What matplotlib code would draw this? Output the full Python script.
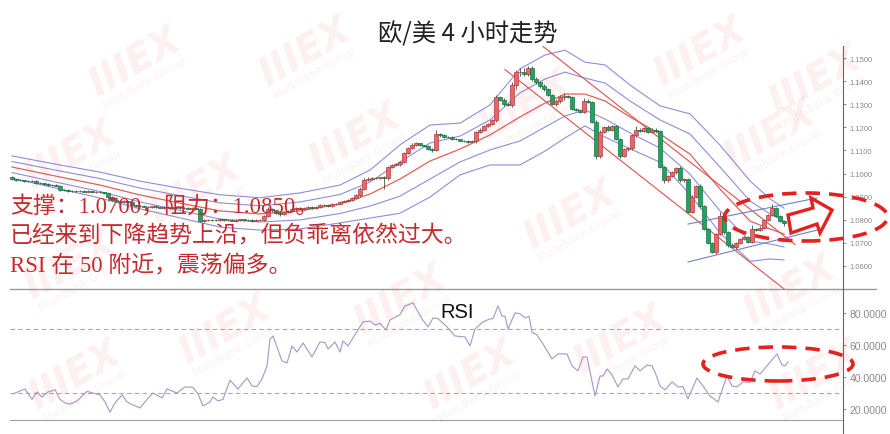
import numpy as np
import matplotlib.pyplot as plt
from matplotlib.patches import Rectangle, Ellipse, Polygon
from matplotlib.lines import Line2D

plt.rcParams['font.family'] = ['Noto Sans CJK SC', 'DejaVu Sans']

W, H = 890, 435

# 4小时K线 (收盘价), 开盘价取前一根收盘
first_open = 1.0985
closes = [
    1.0975, 1.0972, 1.0970, 1.0968, 1.0969, 1.0966, 1.0960, 1.0958, 1.0955, 1.0950,
    1.0952, 1.0948, 1.0930, 1.0928, 1.0925, 1.0926, 1.0924, 1.0925, 1.0922, 1.0923,
    1.0920, 1.0921, 1.0918, 1.0915, 1.0898, 1.0885, 1.0880, 1.0878, 1.0880, 1.0875,
    1.0862, 1.0858, 1.0860, 1.0857, 1.0855, 1.0858, 1.0854, 1.0852, 1.0855, 1.0853,
    1.0850, 1.0852, 1.0849, 1.0851, 1.0848, 1.0850, 1.0847, 1.0795, 1.0798, 1.0800,
    1.0797, 1.0799, 1.0802, 1.0798, 1.0800, 1.0796, 1.0798, 1.0801, 1.0797, 1.0799,
    1.0796, 1.0798, 1.0800, 1.0815, 1.0845, 1.0840, 1.0830, 1.0825, 1.0832, 1.0838,
    1.0845, 1.0850, 1.0848, 1.0852, 1.0855, 1.0850, 1.0856, 1.0862, 1.0865, 1.0860,
    1.0868, 1.0870, 1.0878, 1.0882, 1.0885, 1.0895, 1.0905, 1.0935, 1.0972, 1.0978,
    1.0982, 1.0980, 1.0984, 1.0979, 1.1028, 1.1035, 1.1040, 1.1050, 1.1090, 1.1110,
    1.1125, 1.1130, 1.1122, 1.1118, 1.1105, 1.1100, 1.1170, 1.1165, 1.1160, 1.1158,
    1.1150, 1.1148, 1.1142, 1.1140, 1.1138, 1.1140, 1.1180, 1.1190, 1.1205, 1.1215,
    1.1230, 1.1330, 1.1320, 1.1300, 1.1295, 1.1385, 1.1438, 1.1440, 1.1432, 1.1455,
    1.1410, 1.1395, 1.1380, 1.1365, 1.1340, 1.1300, 1.1315, 1.1330, 1.1335, 1.1330,
    1.1280, 1.1275, 1.1268, 1.1315, 1.1310, 1.1225, 1.1075, 1.1180, 1.1200, 1.1190,
    1.1205, 1.1150, 1.1075, 1.1105, 1.1110, 1.1165, 1.1190, 1.1185, 1.1195, 1.1180,
    1.1190, 1.1185, 1.1030, 1.0970, 1.0990, 1.1005, 1.1025, 1.0970, 1.0975, 1.0835,
    1.0900, 1.0945, 1.0860, 1.0760, 1.0700, 1.0662, 1.0738, 1.0815, 1.0745, 1.0690,
    1.0680, 1.0700, 1.0715, 1.0725, 1.0705, 1.0760, 1.0755, 1.0765, 1.0800, 1.0820,
    1.0850, 1.0818, 1.0795, 1.0785,
]
# 上下影线长度 (点)
wick_up = [
    5, 3, 3, 4, 3, 3, 4, 3, 3, 5,   3, 3, 4, 3, 3, 4, 3, 3, 3, 4,
    3, 3, 4, 3, 3, 5, 3, 3, 4, 3,   4, 3, 3, 3, 4, 3, 3, 3, 4, 3,
    3, 4, 3, 3, 3, 4, 3, 4, 3, 4,   3, 3, 4, 3, 3, 3, 4, 3, 3, 3,
    4, 3, 3, 5, 8, 6, 4, 5, 4, 3,   5, 4, 3, 4, 3, 4, 3, 5, 4, 3,
    4, 3, 4, 3, 5, 4, 5, 6, 8, 5,   4, 5, 3, 6, 5, 4, 4, 6, 5, 4,
    5, 6, 4, 3, 5, 4, 20, 6, 5, 4,  4, 3, 3, 3, 4, 3, 6, 5, 4, 5,
    6, 8, 5, 6, 4, 10, 12, 18, 15, 10,  10, 6, 5, 8, 6, 5, 6, 8, 12, 5,
    6, 5, 4, 14, 6, 5, 6, 8, 6, 8,  6, 5, 5, 4, 6, 8, 16, 6, 5, 6,
    6, 5, 5, 4, 5, 6, 5, 8, 6, 6,   5, 6, 8, 5, 5, 4, 6, 20, 5, 4,
    4, 5, 6, 5, 4, 18, 5, 6, 5, 6,  18, 6, 4, 3,
]
wick_dn = [
    4, 3, 3, 4, 3, 3, 4, 3, 3, 4,   3, 3, 4, 3, 3, 4, 3, 3, 3, 4,
    3, 3, 4, 3, 4, 5, 3, 3, 4, 3,   4, 3, 3, 3, 4, 3, 3, 3, 4, 3,
    3, 4, 3, 3, 3, 4, 3, 5, 3, 4,   3, 3, 4, 3, 3, 3, 4, 3, 3, 3,
    4, 3, 3, 4, 5, 6, 5, 8, 4, 3,   5, 4, 3, 4, 3, 4, 3, 5, 4, 3,
    4, 3, 4, 3, 5, 4, 5, 6, 5, 5,   4, 5, 3, 45, 5, 4, 4, 6, 5, 4,
    5, 6, 4, 3, 5, 6, 4, 6, 5, 4,   4, 3, 3, 5, 4, 3, 6, 5, 4, 5,
    6, 8, 5, 6, 4, 6, 20, 14, 10, 8,  10, 6, 8, 8, 6, 5, 6, 8, 12, 5,
    6, 5, 4, 6, 6, 5, 12, 8, 6, 8,  6, 5, 10, 4, 6, 8, 6, 6, 5, 6,
    6, 5, 8, 10, 5, 6, 5, 8, 6, 6,  5, 6, 8, 5, 5, 6, 10, 6, 5, 8,
    4, 5, 6, 5, 4, 8, 5, 6, 5, 6,   5, 6, 4, 14,
]

# 布林带 (中轨 + 标准差), 按K线序号读取
bb_bar = [0, 12, 22, 32, 42, 52, 62, 72, 82, 89.5, 97, 104.5, 112, 119.5, 127,
          133.25, 138.25, 143.25, 148.25, 154.5, 162, 169.5, 177, 184.5, 189.5, 193]
bb_mid = [1.1028, 1.0985, 1.0950, 1.0907, 1.0872, 1.0838, 1.0825, 1.0838, 1.0868,
          1.0911, 1.0976, 1.1054, 1.1106, 1.1167, 1.1245, 1.1305, 1.1344, 1.1344,
          1.1314, 1.1245, 1.1171, 1.1084, 1.0933, 1.0794, 1.0760, 1.0738]
bb_sd = [0.0024, 0.0026, 0.0028, 0.0030, 0.0032, 0.0035, 0.0035, 0.0039, 0.0041,
         0.0052, 0.0074, 0.0078, 0.0056, 0.0065, 0.0104, 0.0104, 0.0095, 0.0069,
         0.0078, 0.0069, 0.0061, 0.0087, 0.0095, 0.0087, 0.0065, 0.0056]

# 趋势线
down_hi_bar, down_hi = [132.75, 195.75], [1.1550, 1.0693]
down_lo_bar, down_lo = [123.25, 193.25], [1.1450, 1.0497]
up_hi_bar, up_hi = [169, 201.25], [1.0781, 1.0894]
up_lo_bar, up_lo = [169, 201.25], [1.0617, 1.0755]

# RSI
rsi_bar = [0.25, 3.25, 5, 6.25, 7.5, 9, 10.75, 12, 13.25, 14.5, 16.25, 18.75, 20.25, 22,
           23.25, 24.5, 25.75, 27.5, 28.75, 30.25, 32, 33.75, 35.25, 37.5, 38.75, 41.25,
           43.25, 45.25, 46.5, 47.75, 49.5, 50.25, 51.5, 52.75, 54.5, 56.5, 58.75, 60,
           61.25, 62.5, 63.75, 64.5, 65.25, 67.5, 68.75, 70, 71.25, 72.75, 75, 77, 78.25,
           79, 80.75, 82, 82.75, 84, 87.75, 89.5, 90.75, 92, 93.5, 94.5, 96.25, 97, 98.25,
           100.25, 102.5, 104, 105.25, 106.5, 108.75, 110.75, 113.25, 114.5, 115.75,
           117.75, 119.5, 120.25, 121.5, 122.5, 123.25, 124, 125.75, 127, 128.25, 129.25,
           130, 131.25, 132.75, 135, 136.5, 138.75, 140, 141.5, 142.75, 143.75, 145.75,
           147, 147.75, 148.75, 150, 151.5, 152.75, 154, 155.75, 157, 158.75, 160, 160.75,
           162, 163.25, 165, 166.5, 167.75, 169, 171.25, 172.75, 174.5, 176.5, 178.75,
           180, 181.25, 182.75, 184.5, 185.75, 187, 188.25, 191.25, 192.5, 193.25, 194]
rsi_val = [29.4, 32.5, 26, 30.6, 27.5, 30.6, 32, 26, 23.8, 23, 25, 31, 30, 28.8,
           24.4, 18, 23.8, 28.8, 24.4, 22.5, 20.6, 26, 30, 26.9, 32.5, 30,
           33.8, 33.5, 29.4, 21.9, 24.4, 27.5, 25, 26, 38, 32.5, 39.4, 34.4,
           34, 38.8, 46.9, 63.8, 65.6, 50, 48.8, 59.4, 55.6, 61.3, 52.5, 61.9, 61.5,
           57.5, 61.9, 55.6, 62.5, 59.4, 74.4, 75, 72.5, 73.5, 69.4, 75.6, 78, 79, 84.4,
           86.3, 76.3, 71.3, 76.9, 76.5, 71.3, 65.6, 65, 59.4, 70,
           74.4, 76.3, 76.5, 84.4, 78, 78, 70, 80, 79.5, 76.9, 78,
           68.1, 66.3, 60.6, 51.3, 54.4, 54.4, 46.9, 43.8, 52.5, 52.5, 28.1,
           40.6, 40.6, 45, 41.3, 33.8, 38.8, 38.8, 46.9, 43.8, 47.5, 46.9, 43.1,
           34.4, 31.9, 36.9, 33.8, 34, 26.3, 39.4, 34.4, 28.1, 24.4, 40.6,
           34.4, 33.8, 36.9, 36.5, 43.8, 41.9, 45.5, 54.4, 47.5, 46.9, 49.4]

price_ticks = [1.06, 1.07, 1.08, 1.09, 1.10, 1.11, 1.12, 1.13, 1.14, 1.15]
rsi_ticks = [20, 40, 60, 80]

note_lines = ['支撑：1.0700，阻力：1.0850。',
              '已经来到下降趋势上沿，但负乖离依然过大。',
              'RSI 在 50 附近，震荡偏多。']


def fx(px):
    return px / W


def fy(py):
    return 1 - py / H


fig = plt.figure(figsize=(W / 100, H / 100), dpi=100, facecolor='white')
ax = fig.add_axes([fx(10), fy(290), fx(843) - fx(10), fy(47) - fy(290)])
ax2 = fig.add_axes([fx(10), fy(421), fx(843) - fx(10), fy(290) - fy(421)])

# K线
n = len(closes)
opens = [first_open] + closes[:-1]
for i in range(n):
    o, c = opens[i], closes[i]
    hi = max(o, c) + wick_up[i] * 1e-4
    lo = min(o, c) - wick_dn[i] * 1e-4
    up = c >= o
    fc = '#e46a6a' if up else '#23a262'
    ec = '#b23a3a' if up else '#157546'
    ax.vlines(i, lo, hi, color='#4a4a4a', lw=0.6, zorder=2)
    ax.add_patch(Rectangle((i - 0.38, min(o, c)), 0.76, max(abs(c - o), 0.0001),
                           fc=fc, ec=ec, lw=0.5, zorder=3))

mid = np.array(bb_mid)
sd = np.array(bb_sd)
for k in (2, 1, -1, -2):
    ax.plot(bb_bar, mid + k * sd, color='#8e8ed8', lw=0.8, zorder=1)
ax.plot(bb_bar, mid, color='#e0605a', lw=0.9, zorder=1)

ax.plot(down_hi_bar, down_hi, color='#d9534f', lw=0.8, zorder=1)
ax.plot(down_lo_bar, down_lo, color='#d9534f', lw=0.8, zorder=1)
ax.plot(up_hi_bar, up_hi, color='#6f83c6', lw=0.8, zorder=1)
ax.plot(up_lo_bar, up_lo, color='#6f83c6', lw=0.8, zorder=1)

ax.set_xlim(-0.5, 207.75)
ax.set_ylim(1.0500, 1.1552)
ax.set_xticks([])
ax.yaxis.tick_right()
ax.set_yticks(price_ticks)
ax.set_yticklabels([f'{t:.4f}' for t in price_ticks], family='Liberation Sans',
                   fontsize=5.5, color='#8a8a8a')
ax.tick_params(axis='y', length=2.5, width=0.6, color='#777777', pad=2)
for s in ax.spines.values():
    s.set_visible(False)

# RSI
ax2.plot(rsi_bar, rsi_val, color='#a99cc8', lw=0.85)
for lvl in (70, 30):
    ax2.axhline(lvl, color='#a8a8a8', lw=0.8, dashes=(4, 3))
ax2.set_xlim(-0.5, 207.75)
ax2.set_ylim(13.1, 95)
ax2.set_xticks([])
ax2.yaxis.tick_right()
ax2.set_yticks(rsi_ticks)
ax2.set_yticklabels([f'{t:.4f}' for t in rsi_ticks], family='Liberation Sans',
                    fontsize=7.5, color='#8a8a8a')
ax2.tick_params(axis='y', length=2.5, width=0.6, color='#777777', pad=2)
for s in ax2.spines.values():
    s.set_visible(False)
ax2.text(0.537, 0.83, 'RSI', transform=ax2.transAxes, ha='center', va='center',
         fontsize=14.5, family='Liberation Sans', color='#111111')

# 边框线
fig.add_artist(Line2D([fx(10), fx(876)], [fy(290), fy(290)], color='#9a9a9a', lw=1))
fig.add_artist(Line2D([fx(10), fx(843)], [fy(421), fy(421)], color='#a0a0a0', lw=0.8))
fig.add_artist(Line2D([fx(843), fx(843)], [fy(47), fy(435)], color='#666666', lw=0.8))

# 标题与注释
fig.text(fx(468), fy(35), '欧/美 4 小时走势', ha='center', va='center', fontsize=17.5,
         color='#222222')
for k, line in enumerate(note_lines):
    fig.text(fx(10), fy(207 + 29.5 * k), line, ha='left', va='center', fontsize=16.5,
             color='#c52b2e', weight='light',
             family=['Liberation Serif', 'Noto Sans CJK SC'])

# 红色虚线圈与箭头
red = '#e3211f'
fig.add_artist(Ellipse((fx(806), fy(218)), fx(163), 48 / H, transform=fig.transFigure,
                       fill=False, ec=red, lw=2.6, ls=(0, (4, 2.5))))
fig.add_artist(Ellipse((fx(778), fy(365)), fx(150), 34 / H, transform=fig.transFigure,
                       fill=False, ec=red, lw=2.6, ls=(0, (4, 2.5))))
arrow_px = [(788, 216), (813, 209), (811, 199), (832, 211), (820, 234), (817, 225), (791, 234)]
fig.add_artist(Polygon([(fx(a), fy(b)) for a, b in arrow_px], closed=True,
                       transform=fig.transFigure, fc='white', ec=red, lw=2.4, zorder=5))

# 水印
wm_pts = [(135, 62), (305, 52), (700, 52), (355, 138), (525, 105), (770, 135), (70, 155),
          (815, 80), (195, 190), (570, 215), (790, 290), (70, 265), (225, 330),
          (400, 300), (620, 340), (75, 375), (470, 375), (815, 375)]
for a, b in wm_pts:
    fig.text(fx(a), fy(b), 'IIIEX', rotation=30, ha='center', va='center', fontsize=28,
             weight='bold', style='italic', family='DejaVu Sans', color='#e8383a',
             alpha=0.075, zorder=10)
    fig.text(fx(a + 10), fy(b + 21), 'MultiBank Group', rotation=30, ha='center',
             va='center', fontsize=8, family='DejaVu Sans', color='#e8383a',
             alpha=0.08, zorder=10)

fig.savefig('out.png', dpi=100, facecolor='white')
